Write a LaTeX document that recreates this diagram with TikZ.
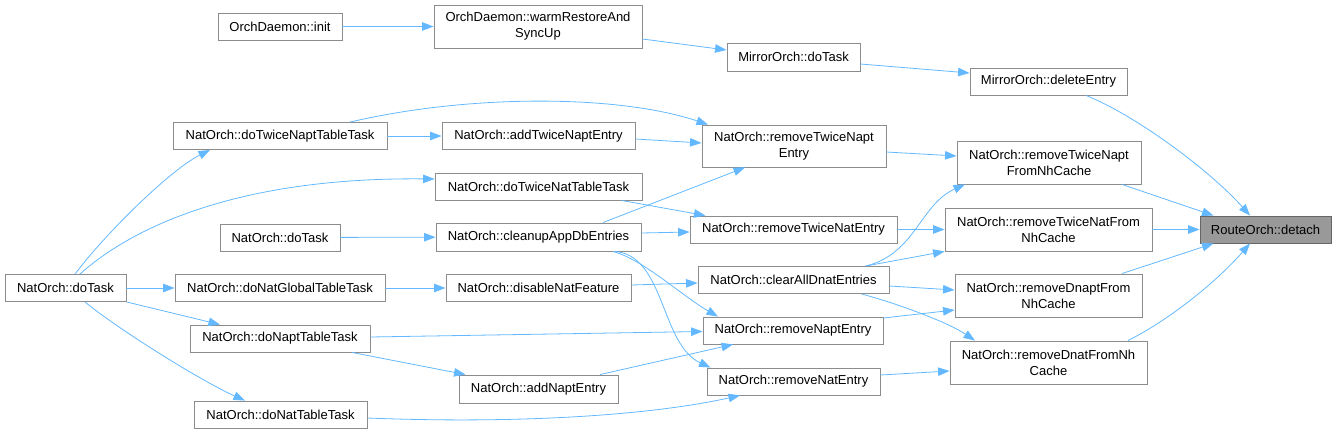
\documentclass[tikz,border=0pt]{standalone}
\usepackage{fontspec}
\setmainfont{Liberation Sans}
\usepackage{tikz}
\usetikzlibrary{arrows.meta,positioning}

\definecolor{edgeblue}{HTML}{63B8FF}
\definecolor{boxline}{HTML}{8C8C8C}
\definecolor{rootfill}{HTML}{999999}
\definecolor{rootline}{HTML}{666666}

\begin{document}
\begin{tikzpicture}[x=1pt, y=1pt]

    % Style for nodes and calls
    \tikzset{
        fnbox/.style={rectangle, draw=boxline, fill=white, line width=0.9pt, inner sep=2pt, minimum height=27pt, align=center, font=\fontsize{13}{16}\selectfont},
        fnbox2/.style={fnbox, minimum height=43pt},
        rootbox/.style={fnbox, draw=rootline, fill=rootfill},
        call/.style={draw=edgeblue, line width=0.8pt, -{Triangle[length=11.5pt, width=8.5pt]}}
    }

    \useasboundingbox (0,0) rectangle (1337,-433);

    % --- DRAW NODES ---
    % column 1
    \node[fnbox, minimum width=121pt] (natTask) at (65.5,-288) {NatOrch::doTask};
    % column 2
    \node[fnbox, minimum width=124pt] (init) at (280,-26.5) {OrchDaemon::init};
    \node[fnbox, minimum width=214pt] (twiceNaptTask) at (280,-136) {NatOrch::doTwiceNaptTableTask};
    \node[fnbox, minimum width=120pt] (natTaskB) at (280,-237.5) {NatOrch::doTask};
    \node[fnbox, minimum width=210pt] (globalTask) at (280,-288) {NatOrch::doNatGlobalTableTask};
    \node[fnbox, minimum width=180pt] (naptTask) at (280,-338.5) {NatOrch::doNaptTableTask};
    \node[fnbox, minimum width=173pt] (natTableTask) at (280.5,-414.5) {NatOrch::doNatTableTask};
    % column 3
    \node[fnbox2, minimum width=208pt] (warmRestore) at (538,-26.5) {OrchDaemon::warmRestoreAnd\\SyncUp};
    \node[fnbox, minimum width=193pt] (addTwiceNapt) at (538.5,-136) {NatOrch::addTwiceNaptEntry};
    \node[fnbox, minimum width=207pt] (twiceNatTask) at (538.5,-186.5) {NatOrch::doTwiceNatTableTask};
    \node[fnbox, minimum width=205pt, minimum height=28pt] (cleanup) at (538.5,-237) {NatOrch::cleanupAppDbEntries};
    \node[fnbox, minimum width=185pt] (disableNat) at (538.5,-288) {NatOrch::disableNatFeature};
    \node[fnbox, minimum width=159pt, minimum height=28pt] (addNapt) at (538.5,-389) {NatOrch::addNaptEntry};
    % column 4
    \node[fnbox, minimum width=133pt, minimum height=28pt] (mirrorTask) at (793.5,-57) {MirrorOrch::doTask};
    \node[fnbox2, minimum width=184pt, minimum height=42pt] (rmTwiceNapt) at (794,-146) {NatOrch::removeTwiceNapt\\Entry};
    \node[fnbox, minimum width=207pt] (rmTwiceNat) at (793.5,-229.5) {NatOrch::removeTwiceNatEntry};
    \node[fnbox, minimum width=191pt] (clearDnat) at (793.5,-280) {NatOrch::clearAllDnatEntries};
    \node[fnbox, minimum width=180pt] (rmNapt) at (793,-330.5) {NatOrch::removeNaptEntry};
    \node[fnbox, minimum width=173pt] (rmNat) at (793.5,-381.5) {NatOrch::removeNatEntry};
    % column 5
    \node[fnbox, minimum width=157pt] (mirrorDelete) at (1048.5,-81.5) {MirrorOrch::deleteEntry};
    \node[fnbox2, minimum width=184pt] (rmTwiceNaptNh) at (1049,-162.5) {NatOrch::removeTwiceNapt\\FromNhCache};
    \node[fnbox2, minimum width=207pt] (rmTwiceNatNh) at (1048.5,-229.5) {NatOrch::removeTwiceNatFrom\\NhCache};
    \node[fnbox2, minimum width=187pt] (rmDnaptNh) at (1048.5,-295.5) {NatOrch::removeDnaptFrom\\NhCache};
    \node[fnbox2, minimum width=197pt] (rmDnatNh) at (1048.5,-362.5) {NatOrch::removeDnatFromNh\\Cache};
    % column 6
    \node[rootbox, minimum width=131pt] (detach) at (1265.5,-229.5) {RouteOrch::detach};

    % --- CALLS INTO ROUTEORCH::DETACH ---
    \draw[call] ([xshift=37.5pt]mirrorDelete.south) .. controls +(50,-20) and +(-40,45) .. ([xshift=-15.5pt]detach.north);
    \draw[call] ([xshift=73pt]rmTwiceNaptNh.south) -- ([xshift=-52pt]detach.north);
    \draw[call] (rmTwiceNatNh) -- (detach);
    \draw[call] ([xshift=73.5pt]rmDnaptNh.north) -- ([xshift=-52pt]detach.south);
    \draw[call] ([xshift=79.5pt]rmDnatNh.north) .. controls +(40,20) and +(-35,-40) .. ([xshift=-15.5pt]detach.south);

    % --- MIRROR / DAEMON CHAIN ---
    \draw[call] (init) -- (warmRestore);
    \draw[call] ([yshift=-12.5pt]warmRestore.east) -- ([yshift=7pt]mirrorTask.west);
    \draw[call] ([yshift=-7pt]mirrorTask.east) -- ([yshift=8.5pt]mirrorDelete.west);

    % --- TWICE NAPT / TWICE NAT ---
    \draw[call] ([yshift=-6pt]rmTwiceNapt.east) -- ([yshift=6.5pt]rmTwiceNaptNh.west);
    \draw[call] (twiceNaptTask) -- (addTwiceNapt);
    \draw[call] ([yshift=-3pt]addTwiceNapt.east) -- ([yshift=3pt]rmTwiceNapt.west);
    \draw[call] ([xshift=70pt]twiceNaptTask.north) .. controls +(120,28) and +(-90,30) .. ([xshift=-86pt]rmTwiceNapt.north);
    \draw[call] ([xshift=64.5pt]cleanup.north) -- ([xshift=-49pt]rmTwiceNapt.south);
    \draw[call] ([xshift=83pt]twiceNatTask.south) -- ([xshift=-88pt]rmTwiceNat.north);
    \draw[call] ([yshift=4pt]cleanup.east) -- ([yshift=-2.5pt]rmTwiceNat.west);
    \draw[call] (rmTwiceNat) -- (rmTwiceNatNh);

    % --- CLEAR ALL DNAT ENTRIES ---
    \draw[call] ([xshift=72pt]clearDnat.north) .. controls +(50,12) and +(-45,-20) .. ([xshift=-84pt]rmTwiceNaptNh.south);
    \draw[call] ([xshift=72pt]clearDnat.north) -- (rmTwiceNatNh.south west);
    \draw[call] ([yshift=-6pt]clearDnat.east) -- ([yshift=5.5pt]rmDnaptNh.west);
    \draw[call] ([xshift=68pt]clearDnat.south) .. controls +(30,-8) and +(-30,20) .. ([xshift=-73.5pt]rmDnatNh.north);
    \draw[call] ([yshift=12.5pt]rmNapt.east) -- ([yshift=-14.5pt]rmDnaptNh.west);
    \draw[call] ([yshift=6.5pt]rmNat.east) -- ([yshift=-8.5pt]rmDnatNh.west);

    % --- NATORCH::DOTASK FAN OUT ---
    \draw[call] (natTaskB) -- (cleanup);
    \draw[call] ([xshift=9.5pt]natTask.north) .. controls +(30,40) and +(-40,-20) .. ([xshift=-70pt]twiceNaptTask.south);
    \draw[call] ([xshift=14.5pt]natTask.north) .. controls +(50,45) and +(-200,2) .. ([yshift=7.5pt]twiceNatTask.west);
    \draw[call] (natTask) -- (globalTask);
    \draw[call] (natTask.south east) -- ([xshift=-60pt]naptTask.north);
    \draw[call] ([xshift=19.5pt]natTask.south) .. controls +(30,-25) and +(-45,20) .. ([xshift=-35.5pt]natTableTask.north);

    % --- TABLE TASKS TO ENTRIES ---
    \draw[call] (globalTask) -- (disableNat);
    \draw[call] ([yshift=3pt]disableNat.east) -- ([yshift=-3pt]clearDnat.west);
    \draw[call] ([xshift=74.5pt]cleanup.south) .. controls +(30,-8) and +(-35,20) .. ([xshift=-75pt]rmNapt.north);
    \draw[call] ([xshift=76.5pt]cleanup.south) .. controls +(50,-4) and +(-50,23) .. ([xshift=-83pt]rmNat.north);
    \draw[call] ([yshift=1.5pt]naptTask.east) -- ([yshift=-1pt]rmNapt.west);
    \draw[call] ([xshift=72pt]naptTask.south) -- ([xshift=-73pt]addNapt.north);
    \draw[call] ([xshift=61.5pt]addNapt.north) -- ([xshift=-60pt]rmNapt.south);
    \draw[call] ([yshift=-3.5pt]natTableTask.east) .. controls +(150,-6) and +(-90,-20) .. ([xshift=-53.5pt]rmNat.south);

\end{tikzpicture}
\end{document}
